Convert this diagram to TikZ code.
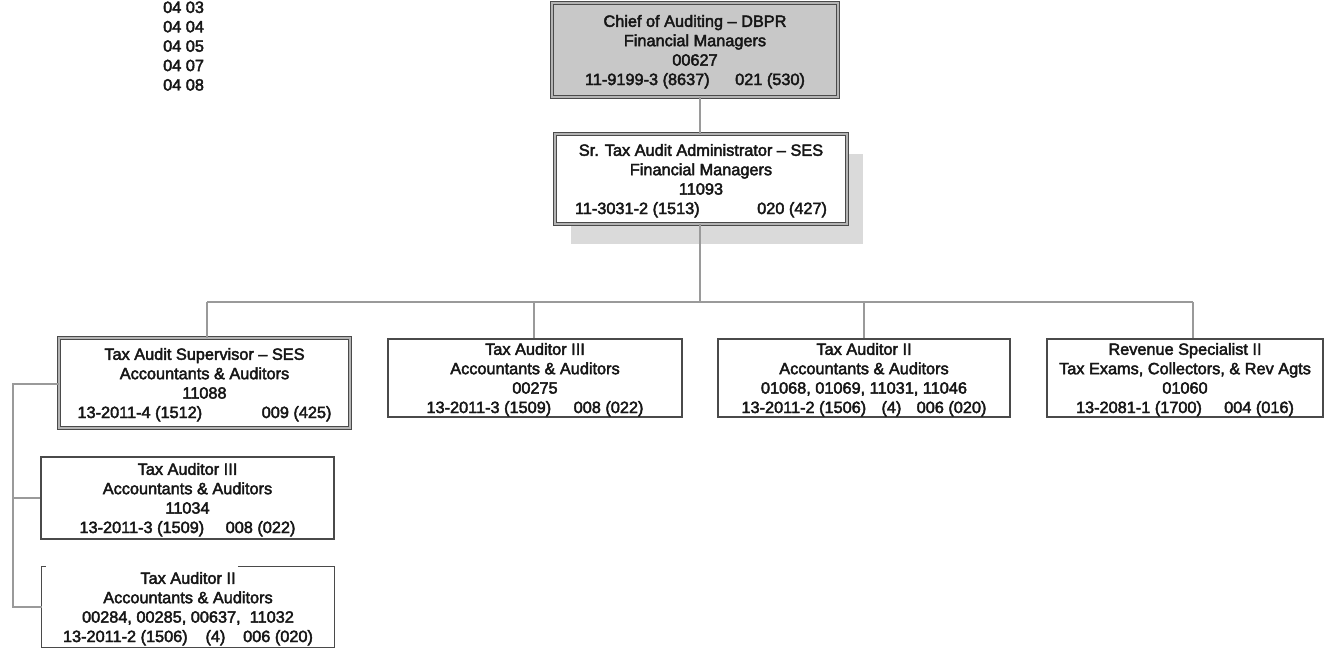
\documentclass[tikz,border=0pt]{standalone}
\usepackage{fontspec}
\usetikzlibrary{shadows}
\newfontfamily\chartfont{Liberation Sans}[FakeBold=2.6]
\definecolor{ink}{HTML}{161616}
\definecolor{boxline}{HTML}{4A4A4A}
\definecolor{dblgap}{HTML}{B4B4B4}
\definecolor{chieffill}{HTML}{C8C8C8}
\definecolor{shadowgray}{HTML}{DADADA}
\definecolor{wire}{HTML}{9A9A9A}
% last line of a position box: class code on the left, pay grade on the right
\newcommand\twocol[3]{\makebox[#1]{#2\hfill #3}}
\newcommand\threecol[4]{\makebox[#1]{#2\hfill #3\hfill #4}}
\begin{document}
\begin{tikzpicture}[x=1pt,y=-1pt,
  txt/.style={font=\chartfont\fontsize{16.3}{19.4}\selectfont, text=ink, align=center, text depth=-1.5pt},
  plainbox/.style={txt, rectangle, draw=boxline, line width=1.1pt, inner sep=0pt},
  dblbox/.style={txt, rectangle, draw=boxline, line width=0.9pt, double=dblgap, double distance=1.5pt, inner sep=0pt},
  conn/.style={draw=wire, line width=1.1pt}]
\useasboundingbox (0,0) rectangle (1326,649);

% position codes, upper left
\node[txt, align=left, anchor=west, inner sep=0pt] (codes) at (163,46)
  {04 03\\04 04\\04 05\\04 07\\04 08};

% top of the chain
\node[dblbox, fill=chieffill, minimum width=286pt, minimum height=94pt] (chief) at (695,50)
  {Chief of Auditing \textendash\ DBPR\\Financial Managers\\00627\\\twocol{220pt}{11-9199-3 (8637)}{021 (530)}};

\node[dblbox, fill=white, minimum width=292pt, minimum height=90pt,
      drop shadow={shadow xshift=16pt, shadow yshift=-20pt, fill=shadowgray, opacity=1}] (sr) at (701,179)
  {Sr. Tax Audit Administrator \textendash\ SES\\Financial Managers\\11093\\\twocol{252pt}{11-3031-2 (1513)}{020 (427)}};

% second tier
\node[dblbox, fill=white, minimum width=291pt, minimum height=90pt] (sup) at (204.5,383)
  {Tax Audit Supervisor \textendash\ SES\\Accountants \& Auditors\\11088\\\twocol{254pt}{13-2011-4 (1512)}{009 (425)}};

\node[plainbox, minimum width=294pt, minimum height=78pt] (ta3) at (535,378)
  {Tax Auditor III\\Accountants \& Auditors\\00275\\\twocol{217pt}{13-2011-3 (1509)}{008 (022)}};

\node[plainbox, minimum width=292pt, minimum height=78pt] (ta2) at (864,378)
  {Tax Auditor II\\Accountants \& Auditors\\01068, 01069, 11031, 11046\\\threecol{245pt}{13-2011-2 (1506)}{(4)}{006 (020)}};

\node[plainbox, minimum width=276pt, minimum height=78pt] (rev) at (1185,378)
  {Revenue Specialist II\\Tax Exams, Collectors, \& Rev Agts\\01060\\\twocol{218pt}{13-2081-1 (1700)}{004 (016)}};

% staff under the supervisor
\node[plainbox, minimum width=293pt, minimum height=82pt] (ta3b) at (187.5,498)
  {Tax Auditor III\\Accountants \& Auditors\\11034\\\twocol{216pt}{13-2011-3 (1509)}{008 (022)}};

\node[txt, inner sep=0pt, minimum width=292pt, minimum height=80pt] (ta2b) at (188,607)
  {Tax Auditor II\\Accountants \& Auditors\\00284, 00285, 00637,\ \ 11032\\\threecol{250pt}{13-2011-2 (1506)}{(4)}{006 (020)}};
\draw[draw=boxline, line width=1.1pt]
  ([xshift=196pt]ta2b.north west) -- (ta2b.north east) -- (ta2b.south east)
  -- (ta2b.south west) -- (ta2b.north west) -- ++(4,0);

% connectors
\coordinate (trunk) at (700,302);
\coordinate (d1) at (207,302);
\coordinate (d2) at (534,302);
\coordinate (d3) at (864,302);
\coordinate (d4) at (1193,302);
\draw[conn] (chief.south -| trunk) -- (sr.north -| trunk);
\draw[conn] (sr.south -| trunk) -- (trunk);
\draw[conn] (d1) -- (d4);
\draw[conn] (d1) -- (d1 |- sup.north);
\draw[conn] (d2) -- (d2 |- ta3.north);
\draw[conn] (d3) -- (d3 |- ta2.north);
\draw[conn] (d4) -- (d4 |- rev.north);

\coordinate (spine) at (13,384);
\draw[conn] (sup.west |- spine) -- (spine) |- (ta2b.west);
\draw[conn] (spine |- ta3b.west) -- (ta3b.west);
\end{tikzpicture}
\end{document}
